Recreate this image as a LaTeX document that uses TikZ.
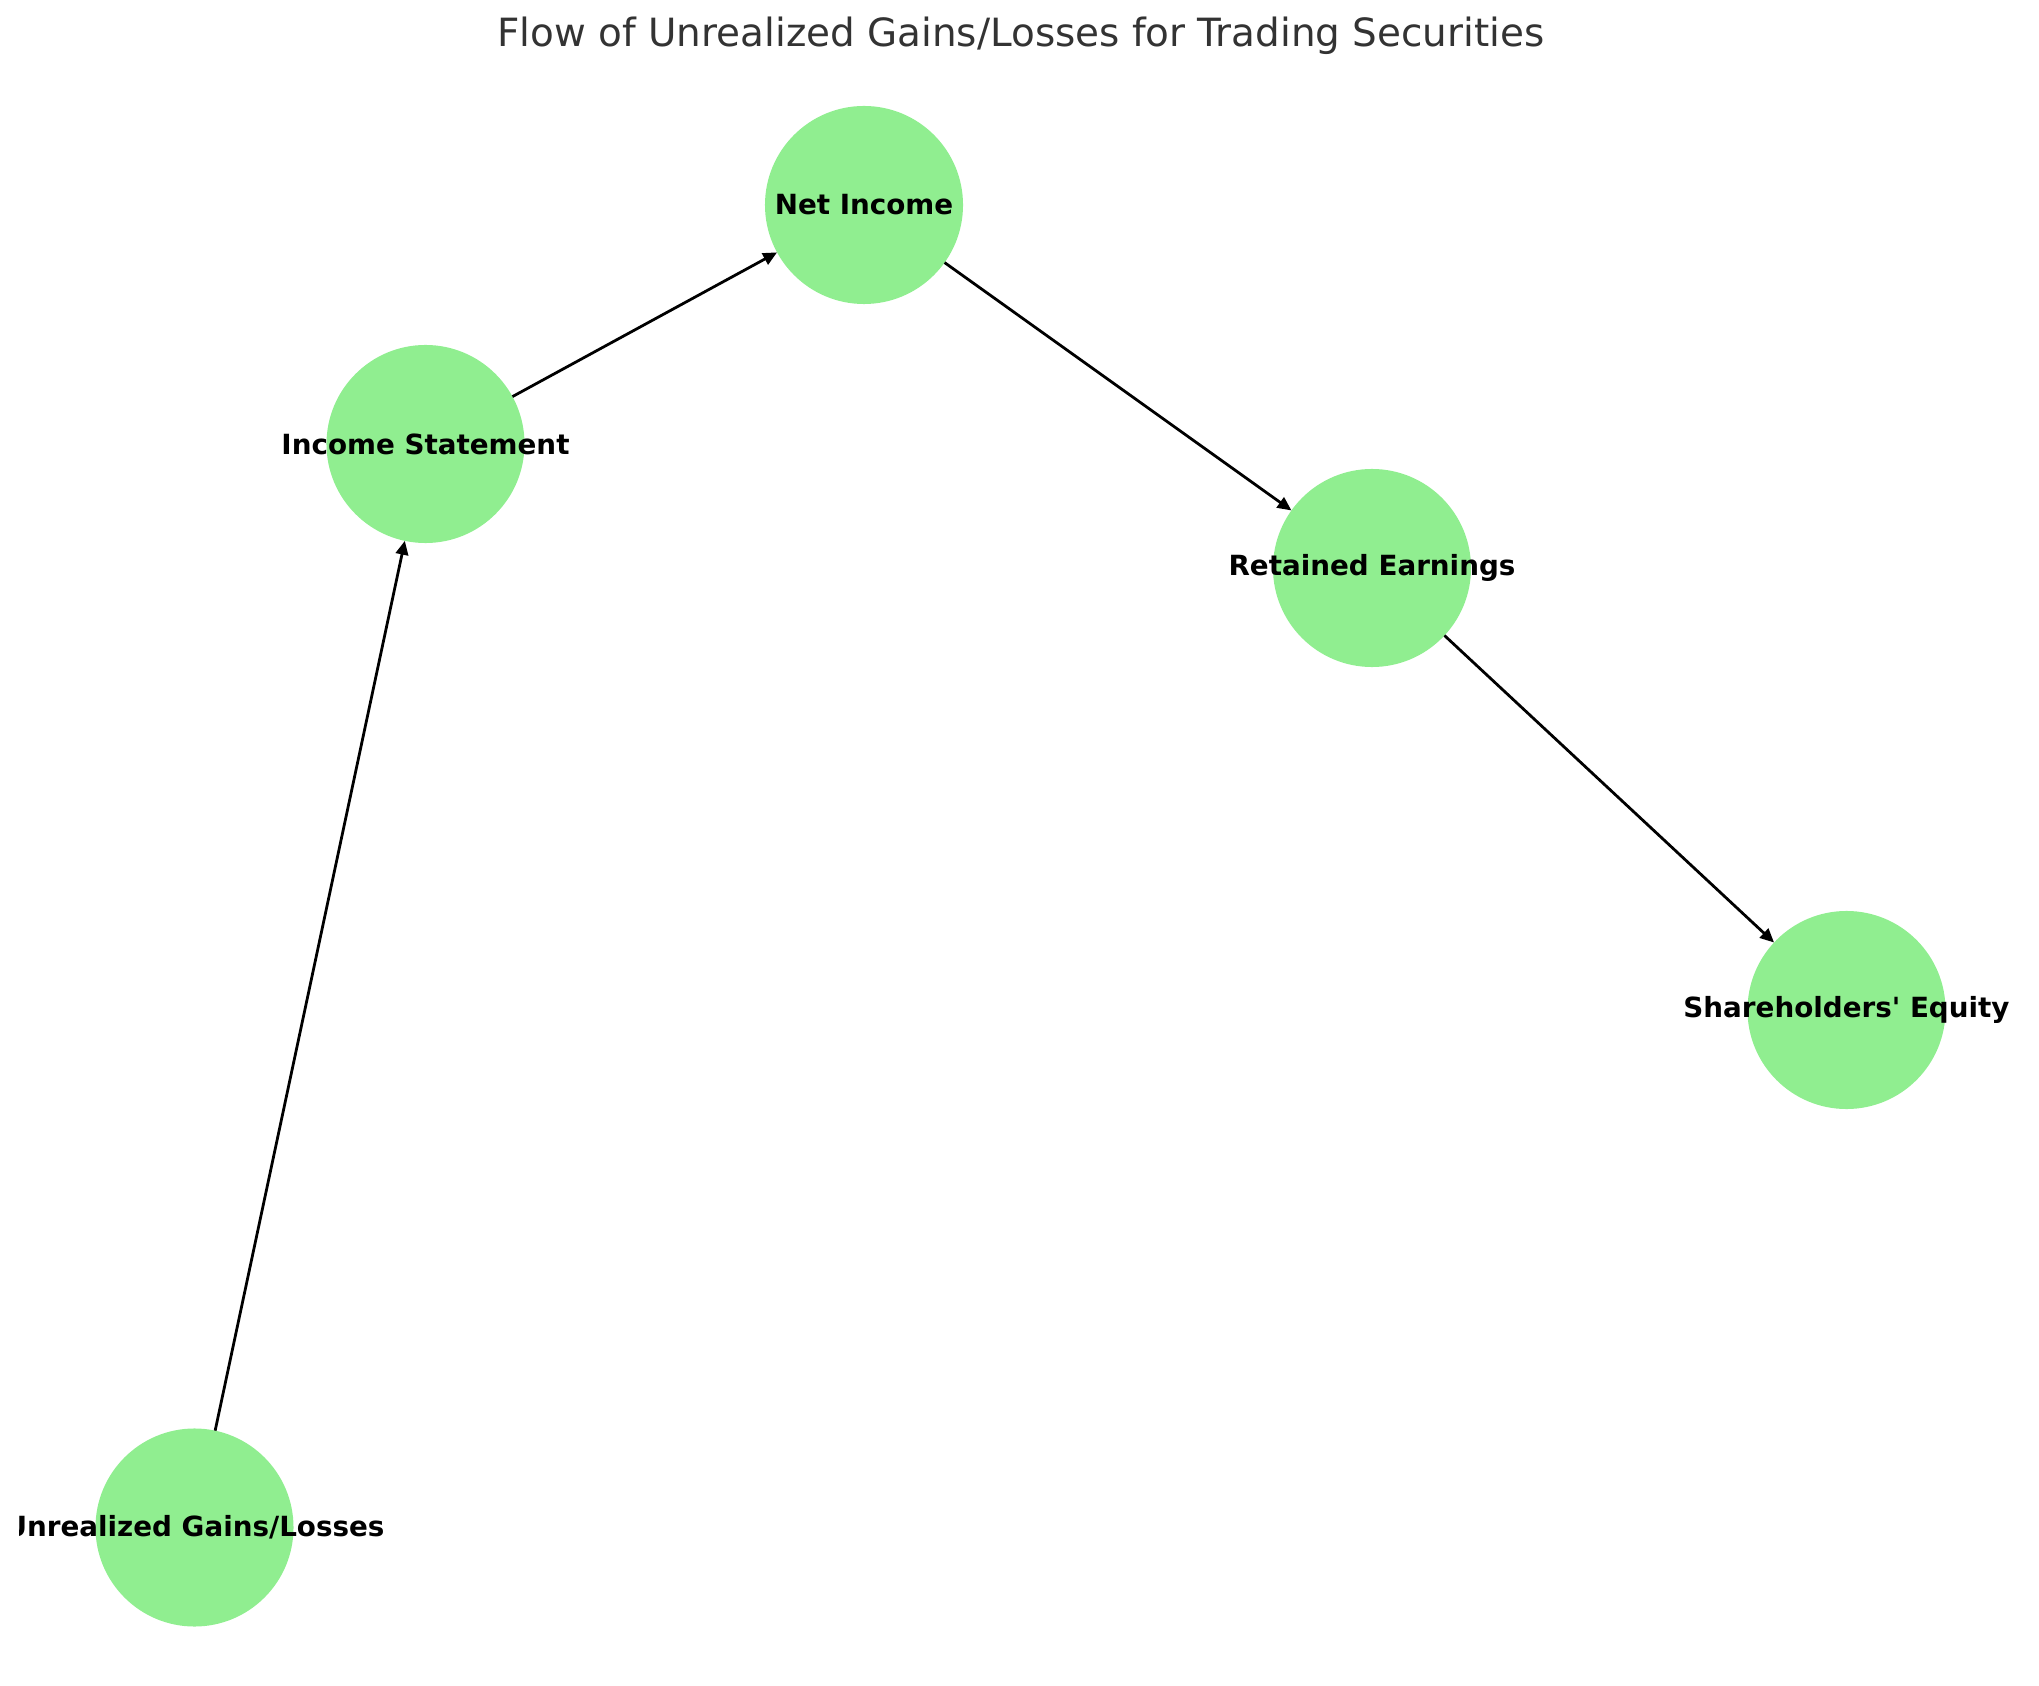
\documentclass[tikz,border=0pt]{standalone}
\usepackage{fontspec}
\setmainfont{DejaVu Sans}
\usetikzlibrary{arrows.meta}
\definecolor{lightgreen}{HTML}{90EE90}
\definecolor{titlegray}{HTML}{333333}

\begin{document}
\begin{tikzpicture}[x=0.36pt,y=-0.36pt,
    acct/.style={circle,fill=lightgreen,minimum size=71.3pt,inner sep=0pt,outer sep=0pt},
    acctname/.style={font=\bfseries\fontsize{10}{12}\selectfont,inner sep=0pt},
    flow/.style={-{Triangle[length=5pt,width=4.5pt]},line width=1pt}]
    \useasboundingbox (0,0) rectangle (2039,1686);

    \node[font=\fontsize{14}{17}\selectfont,text=titlegray,inner sep=0pt] (title) at (1021,36)
        {Flow of Unrealized Gains/Losses for Trading Securities};

    \begin{scope}
        \clip (19,60) rectangle (2039,1686);

        \node[acct] (ugl) at (194.5,1527.5) {};
        \node[acct] (is) at (425.5,444) {};
        \node[acct] (ni) at (864,205) {};
        \node[acct] (re) at (1372,568) {};
        \node[acct] (se) at (1846.5,1010) {};

        \draw[flow] (ugl) -- (is);
        \draw[flow] (is) -- (ni);
        \draw[flow] (ni) -- (re);
        \draw[flow] (re) -- (se);

        \node[acctname] (ugl-t) at (ugl) {Unrealized Gains/Losses};
        \node[acctname] (is-t) at (is) {Income Statement};
        \node[acctname] (ni-t) at (ni) {Net Income};
        \node[acctname] (re-t) at (re) {Retained Earnings};
        \node[acctname] (se-t) at (se) {Shareholders\textquotesingle\ Equity};
    \end{scope}
\end{tikzpicture}
\end{document}
